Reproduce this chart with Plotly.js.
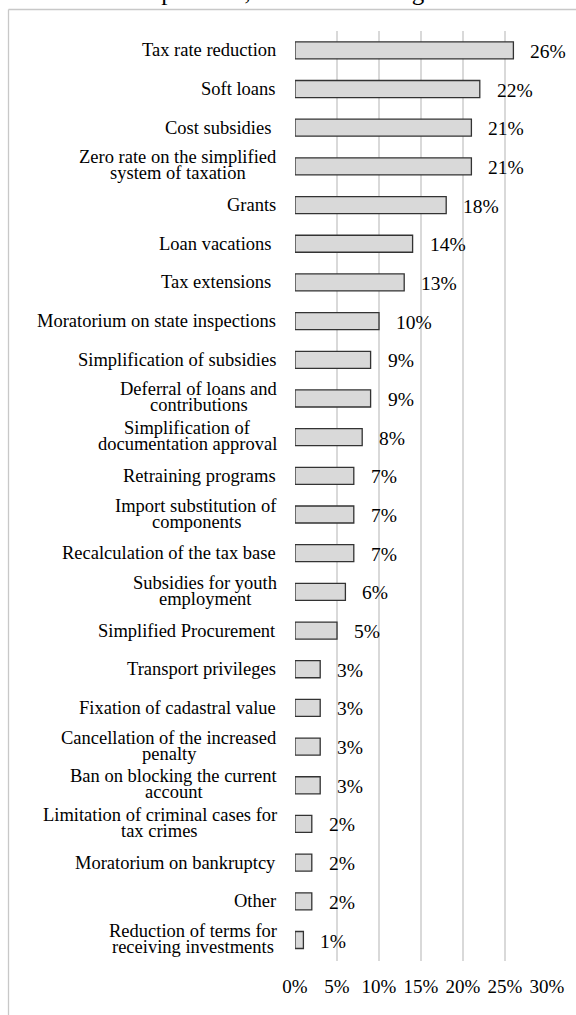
<!DOCTYPE html>
<html><head><meta charset="utf-8">
<script src="https://cdn.plot.ly/plotly-3.0.1.min.js"></script>
<style>html,body{margin:0;padding:0;background:#fff;overflow:hidden}</style>
</head><body><div id="chart" style="width:576px;height:1015px"></div>
<script>
// ---- data ----
const categories = [
  "Tax rate reduction",
  "Soft loans",
  "Cost subsidies\u00a0",
  "Zero rate on the simplified<br>system of taxation",
  "Grants",
  "Loan vacations\u00a0",
  "Tax extensions\u00a0",
  "Moratorium on state inspections",
  "Simplification of subsidies",
  "Deferral of loans and<br>contributions",
  "Simplification of<br>documentation approval",
  "Retraining programs",
  "Import substitution of<br>components",
  "Recalculation of the tax base",
  "Subsidies for youth<br>employment",
  "Simplified Procurement",
  "Transport privileges",
  "Fixation of cadastral value",
  "Cancellation of the increased<br>penalty",
  "Ban on blocking the current<br>account",
  "Limitation of criminal cases for<br>tax crimes",
  "Moratorium on bankruptcy",
  "Other",
  "Reduction of terms for<br>receiving investments"
];
const values = [26, 22, 21, 21, 18, 14, 13, 10, 9, 9, 8, 7, 7, 7, 6, 5, 3, 3, 3, 3, 2, 2, 2, 1];
const tickVals = [0, 5, 10, 15, 20, 25, 30];
const tickText = ["0%", "5%", "10%", "15%", "20%", "25%", "30%"];
const introText = "of state pressure, are shown in Figure 3.";

// ---- layout constants ----
const W = 576, H = 1015;
const M = {l: 295, r: 29, t: 31, b: 54};
const PW = W - M.l - M.r, PH = H - M.t - M.b;
const px2x = p => (p - M.l) / PW;
const py2y = p => (H - M.b - p) / PH;
const FONT = "Liberation Serif, Times New Roman, serif";
const CAT_SIZE = 18.5;

const canvas = document.createElement('canvas');
const ctx = canvas.getContext('2d');
ctx.font = CAT_SIZE + "px 'Liberation Serif'";
const measure = s => ctx.measureText(s.replace(/\u00a0/g, ' ')).width;

const annotations = [];
categories.forEach((c, i) => {
  const lines = c.split('<br>');
  if (lines.length === 1) {
    annotations.push({x: 0, y: c, xref: 'x', yref: 'y', text: c, showarrow: false,
      xanchor: 'right', yanchor: 'middle', xshift: -17, yshift: 0,
      font: {family: FONT, size: CAT_SIZE, color: '#000'}});
  } else {
    const mw = Math.max(...lines.map(measure));
    const shifts = [9, -7];
    lines.forEach((ln, k) => {
      annotations.push({x: 0, y: c, xref: 'x', yref: 'y', text: ln, showarrow: false,
        xanchor: 'center', yanchor: 'middle', xshift: -18 - mw / 2, yshift: shifts[k],
        font: {family: FONT, size: CAT_SIZE, color: '#000'}});
    });
  }
  annotations.push({x: values[i], y: c, xref: 'x', yref: 'y', text: values[i] + '%', showarrow: false,
    xanchor: 'left', yanchor: 'middle', xshift: 15, yshift: -1,
    font: {family: FONT, size: 19.5, color: '#000'}});
});
annotations.push({x: px2x(483), y: py2y(-8.5), xref: 'paper', yref: 'paper', text: introText,
  showarrow: false, xanchor: 'right', yanchor: 'middle',
  font: {family: FONT, size: 25, color: '#000'}});

const shapes = [
  {type: 'line', xref: 'paper', yref: 'paper', x0: px2x(8.5), x1: px2x(8.5), y0: py2y(9.5), y1: py2y(H + 5),
    line: {color: '#c8c8c8', width: 1.3}},
  {type: 'line', xref: 'paper', yref: 'paper', x0: px2x(8.5), x1: px2x(W + 5), y0: py2y(9.5), y1: py2y(9.5),
    line: {color: '#c8c8c8', width: 1.3}}
];

const trace = {
  type: 'bar', orientation: 'h', x: values, y: categories,
  marker: {color: '#d9d9d9', line: {color: '#333333', width: 1.3}},
  hoverinfo: 'none', cliponaxis: false
};

const layout = {
  width: W, height: H,
  margin: {l: M.l, r: M.r, t: M.t, b: M.b, pad: 0},
  paper_bgcolor: '#fff', plot_bgcolor: '#fff',
  showlegend: false, bargap: 0.56,
  font: {family: FONT, color: '#000'},
  xaxis: {range: [0, 30], tickvals: tickVals, ticktext: tickText, showgrid: true,
    gridcolor: '#d9d9d9', gridwidth: 1.5, zeroline: false, showline: false, ticks: '',
    ticklabelstandoff: 12, tickfont: {family: FONT, size: 19, color: '#000'}, fixedrange: true},
  yaxis: {type: 'category', autorange: 'reversed', showticklabels: false, showgrid: false,
    zeroline: false, ticks: '', fixedrange: true},
  annotations: annotations, shapes: shapes
};

Plotly.newPlot('chart', [trace], layout, {displayModeBar: false, staticPlot: true});
</script>
</body></html>
